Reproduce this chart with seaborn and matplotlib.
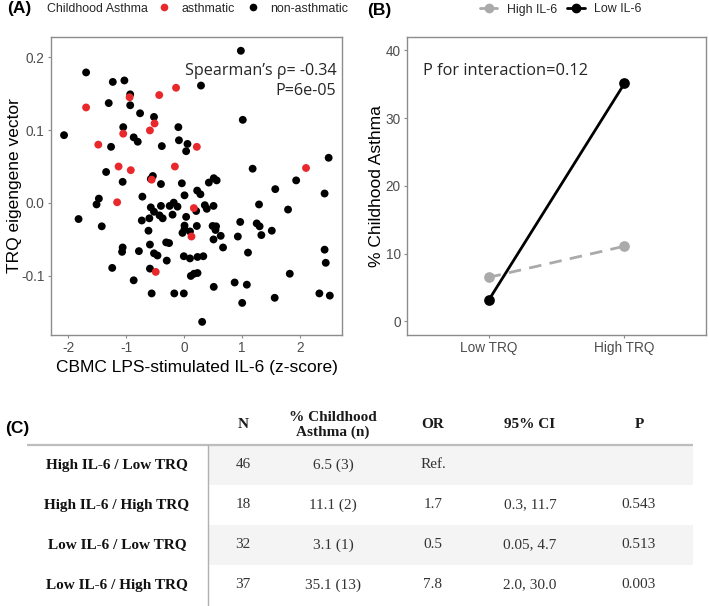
import numpy as np
import pandas as pd
import matplotlib
matplotlib.use("Agg")
import matplotlib.pyplot as plt
import seaborn as sns
from matplotlib.lines import Line2D
from matplotlib.patches import Rectangle

# ---------------- Panel A data ----------------
il6_asthmatic = [-0.94, -0.43, -0.14, -1.69, -0.51, -0.59, -1.05, -1.48, 0.218,
                 -1.13, -0.92, -0.16, -0.56, 2.10, -1.155, 0.167, 0.126, -0.49]
trq_asthmatic = [0.145, 0.148, 0.158, 0.131, 0.109, 0.0995, 0.095, 0.080, 0.077,
                 0.050, 0.045, 0.050, 0.032, 0.048, 0.001, -0.007, -0.046, -0.0945]

il6_nonasthmatic = [0.977, -1.69, -1.23, -1.03, -0.93, 0.29, -1.30, -0.93, -0.76, -0.52,
                    -0.10, 1.01, -1.05, -2.07, -0.87, -0.09, -0.80, -1.26, -0.385, 0.057,
                    0.034, -1.345, -0.54, -0.575, -1.06, -0.40, -0.04, 0.425, 0.51, 0.56,
                    1.18, 2.49, 1.93, 1.57, 2.42, 0.224, 0.28, 0.006, -0.72, -1.47,
                    -1.51, -1.82, -1.42, -0.575, -0.40, -0.18, -0.25, -0.115, -0.52, -0.425,
                    -0.37, -0.60, -0.73, -0.20, 0.034, 0.207, 0.356, 0.506, 0.39, 0.006,
                    0.006, 0.218, -0.029, 0.10, -0.615, 0.49, 0.55, 0.54, 0.506, 0.63,
                    0.67, 0.966, 0.925, 1.25, 1.30, 1.33, 1.29, 1.51, 1.79, 1.10,
                    2.42, 2.44, 1.82, -0.31, -0.26, -0.59, -1.06, -1.07, -0.78, -0.52,
                    -0.46, -0.30, -0.006, 0.10, 0.23, 0.33, -1.24, -0.59, -0.87, 0.115,
                    0.17, 0.23, -0.56, -0.17, -0.006, 0.51, 0.87, 1.08, 1.00, 1.56,
                    2.33, 2.51, 0.31]
trq_nonasthmatic = [0.2087, 0.179, 0.166, 0.168, 0.149, 0.161, 0.137, 0.134, 0.123, 0.118,
                    0.104, 0.114, 0.104, 0.093, 0.090, 0.086, 0.084, 0.077, 0.078, 0.081,
                    0.071, 0.0425, 0.037, 0.033, 0.029, 0.026, 0.027, 0.028, 0.034, 0.031,
                    0.047, 0.062, 0.031, 0.019, 0.013, 0.017, 0.012, 0.0105, 0.0087, 0.006,
                    -0.002, -0.022, -0.032, -0.006, -0.004, 0.0005, -0.004, -0.005, -0.012, -0.017,
                    -0.021, -0.021, -0.024, -0.016, -0.019, -0.011, -0.003, -0.004, -0.008, -0.031,
                    -0.036, -0.0315, -0.041, -0.039, -0.038, -0.0315, -0.032, -0.037, -0.050, -0.045,
                    -0.061, -0.026, -0.046, -0.028, -0.032, -0.044, -0.002, -0.038, -0.009, -0.068,
                    -0.064, -0.082, -0.097, -0.054, -0.055, -0.057, -0.061, -0.067, -0.066, -0.069,
                    -0.072, -0.079, -0.073, -0.076, -0.074, -0.073, -0.089, -0.090, -0.106, -0.100,
                    -0.097, -0.096, -0.124, -0.124, -0.124, -0.115, -0.109, -0.112, -0.137, -0.130,
                    -0.124, -0.127, -0.163]

asthma_levels = ["asthmatic", "non-asthmatic"]
x_ticks_a = [-2, -1, 0, 1, 2]
y_ticks_a = [-0.1, 0.0, 0.1, 0.2]
y_ticklabels_a = ["-0.1", "0.0", "0.1", "0.2"]

# ---------------- Panel B data ----------------
trq_groups = ["Low TRQ", "High TRQ"]
il6_groups = ["High IL-6", "Low IL-6"]
pct_high_il6 = [6.5, 11.1]
pct_low_il6 = [3.1, 35.1]
y_ticks_b = [0, 10, 20, 30, 40]

# ---------------- Panel C (table) data ----------------
row_labels = ["High IL-6 / Low TRQ", "High IL-6 / High TRQ", "Low IL-6 / Low TRQ", "Low IL-6 / High TRQ"]
col_headers = ["N", "% Childhood\nAsthma (n)", "OR", "95% CI", "P"]
col_n = ["46", "18", "32", "37"]
col_pct = ["6.5 (3)", "11.1 (2)", "3.1 (1)", "35.1 (13)"]
col_or = ["Ref.", "1.7", "0.5", "7.8"]
col_ci = ["", "0.3, 11.7", "0.05, 4.7", "2.0, 30.0"]
col_p = ["", "0.543", "0.513", "0.003"]

# ---------------- Figure ----------------
sns.set_theme(style="white")
plt.rcParams["font.family"] = ["Liberation Sans", "DejaVu Sans"]
plt.rcParams["axes.unicode_minus"] = False

W, H = 709, 606
fig = plt.figure(figsize=(W / 100, H / 100), dpi=100)


def px_axes(l, t, r, b):
    return [l / W, 1 - b / H, (r - l) / W, (b - t) / H]


RED = "#e8282b"
GRAY_TXT = "#4d4d4d"
SPINE = "#8c8c8c"

# ---- Panel A ----
axA = fig.add_axes(px_axes(50.7, 36.7, 342, 335))
dfA = pd.DataFrame({
    "il6": il6_nonasthmatic + il6_asthmatic,
    "trq": trq_nonasthmatic + trq_asthmatic,
    "asthma": ["non-asthmatic"] * len(il6_nonasthmatic) + ["asthmatic"] * len(il6_asthmatic),
})
sns.scatterplot(data=dfA, x="il6", y="trq", hue="asthma", hue_order=asthma_levels,
                palette=[RED, "black"], s=32, linewidth=0, ax=axA, legend=False)
axA.set_xlim(-2.30, 2.72)
axA.set_ylim(-0.181, 0.228)
axA.set_xticks(x_ticks_a)
axA.set_yticks(y_ticks_a)
axA.set_yticklabels(y_ticklabels_a)
axA.set_xlabel("CBMC LPS-stimulated IL-6 (z-score)", fontsize=12.5, color="black")
axA.set_ylabel("TRQ eigengene vector", fontsize=12.5, color="black")
axA.xaxis.set_label_coords(0.502, -0.085)
axA.yaxis.set_label_coords(-0.097, 0.5)
axA.text(0.98, 0.885, "Spearman\u2019s \u03c1= -0.34", transform=axA.transAxes,
         ha="right", va="center", fontsize=11.6, family=["Open Sans", "DejaVu Sans"])
axA.text(0.98, 0.818, "P=6e-05", transform=axA.transAxes,
         ha="right", va="center", fontsize=11.6, family=["Open Sans", "DejaVu Sans"])

# ---- Panel B ----
axB = fig.add_axes(px_axes(407, 36.7, 706, 335))
dfB = pd.DataFrame({
    "trq": trq_groups * 2,
    "il6": [il6_groups[0]] * 2 + [il6_groups[1]] * 2,
    "pct": pct_high_il6 + pct_low_il6,
})
sns.pointplot(data=dfB, x="trq", y="pct", hue="il6", order=trq_groups, hue_order=il6_groups,
              palette=["#aaaaaa", "black"], linestyles=["--", "-"], markers=["o", "o"],
              errorbar=None, markersize=6.2, linewidth=2, ax=axB, legend=False)
for ln in axB.lines:
    if ln.get_linestyle() == "--":
        ln.set_linestyle((0, (4.5, 3)))
axB.set_xlim(-0.6, 1.6)
axB.set_ylim(-2, 42)
axB.set_yticks(y_ticks_b)
axB.set_xlabel("")
axB.set_ylabel("% Childhood Asthma", fontsize=12.5, color="black")
axB.yaxis.set_label_coords(-0.078, 0.5)
axB.text(0.055, 0.885, "P for interaction=0.12", transform=axB.transAxes,
         ha="left", va="center", fontsize=11.8, family=["Open Sans", "DejaVu Sans"])

for ax in (axA, axB):
    for sp in ax.spines.values():
        sp.set_color(SPINE)
        sp.set_linewidth(1.0)
    ax.tick_params(axis="both", which="major", direction="out", length=2.5, width=0.8,
                   color=SPINE, labelsize=9.8, labelcolor=GRAY_TXT, pad=2,
                   bottom=True, left=True)
    ax.grid(False)

# ---- Legends ----
fs_leg = 8.9
hA = [Line2D([], [], linestyle="none", marker="o", markersize=5.5, color=RED, markeredgewidth=0),
      Line2D([], [], linestyle="none", marker="o", markersize=5.5, color="black", markeredgewidth=0)]
fig.legend(hA, asthma_levels, loc="center left", bbox_to_anchor=(158 / W, 1 - 8.5 / H),
           ncol=2, frameon=False, fontsize=fs_leg, handlelength=1.0, handletextpad=0.9,
           columnspacing=1.0, borderpad=0, borderaxespad=0)
fig.text(47 / W, 1 - 8.5 / H, "Childhood Asthma", ha="left", va="center", fontsize=fs_leg)

hB = [Line2D([], [], linestyle="-", linewidth=2, marker="o", markersize=6, color="#aaaaaa"),
      Line2D([], [], linestyle="-", linewidth=2, marker="o", markersize=6, color="black")]
fig.legend(hB, il6_groups, loc="center left", bbox_to_anchor=(480 / W, 1 - 9.5 / H),
           ncol=2, frameon=False, fontsize=fs_leg, handlelength=1.4, handletextpad=0.8,
           columnspacing=0.8, borderpad=0, borderaxespad=0)

# ---- Panel labels ----
lab_kw = dict(ha="left", va="center", fontsize=12.5, fontweight="bold", color="black",
              family=["Liberation Sans", "DejaVu Sans"])
fig.text(7 / W, 1 - 9 / H, "(A)", **lab_kw)
fig.text(367 / W, 1 - 10 / H, "(B)", **lab_kw)
fig.text(5 / W, 1 - 428 / H, "(C)", **lab_kw)

# ---- Panel C table ----
axT = fig.add_axes([0, 0, 1, 1], zorder=-1)
axT.set_xlim(0, W)
axT.set_ylim(H, 0)
axT.axis("off")

row_y = [465, 505, 545, 585]
row_h = 40
vline_x = 208
right_x = 693
for i in (0, 2):
    axT.add_patch(Rectangle((vline_x, row_y[i] - row_h / 2), right_x - vline_x, row_h,
                            facecolor="#f4f4f4", edgecolor="none"))
axT.plot([27, right_x], [445, 445], color="#bdbdbd", lw=1.6, solid_capstyle="butt")
axT.plot([vline_x, vline_x], [445, 606], color="#b0b0b0", lw=1.0)

serif = ["Liberation Serif", "DejaVu Serif"]
fs_tab = 11
col_x = [243, 333, 433, 530, 639]
header_y = 425
for cx, head in zip(col_x, col_headers):
    axT.text(cx, header_y, head, ha="center", va="center", fontsize=fs_tab,
             fontweight="bold", family=serif, linespacing=1.15, color="#1a1a1a")
columns = [col_n, col_pct, col_or, col_ci, col_p]
for i, ry in enumerate(row_y):
    axT.text(117, ry, row_labels[i], ha="center", va="center", fontsize=fs_tab,
             fontweight="bold", family=serif, color="#111111")
    for cx, col in zip(col_x, columns):
        axT.text(cx, ry, col[i], ha="center", va="center", fontsize=fs_tab,
                 family=serif, color="#333333")

fig.savefig("out.png", dpi=100)
